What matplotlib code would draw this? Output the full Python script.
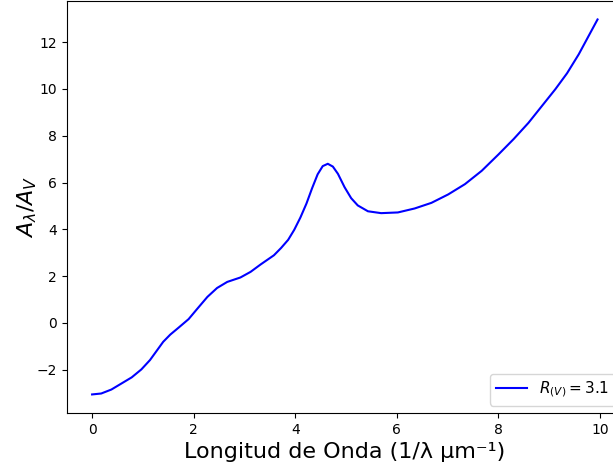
import numpy as np
import matplotlib
matplotlib.use("Agg")
import matplotlib.pyplot as plt

# curva de extincion leida punto a punto (x = 1/lambda en um^-1)
inv_lambda = [0.00, 0.18, 0.38, 0.58, 0.78, 0.97, 1.14, 1.27, 1.40, 1.54,
              1.70, 1.90, 2.07, 2.27, 2.46, 2.66, 2.92, 3.12, 3.32, 3.58,
              3.72, 3.86, 3.98, 4.10, 4.22, 4.33, 4.44, 4.54, 4.64, 4.74,
              4.84, 4.97, 5.10, 5.23, 5.43, 5.69, 6.02, 6.35, 6.68, 7.01,
              7.34, 7.67, 8.00, 8.30, 8.59, 9.12, 9.35, 9.58, 9.95]
a_lambda = [-3.06, -3.02, -2.85, -2.59, -2.33, -1.99, -1.59, -1.20, -0.81, -0.50,
            -0.21, 0.16, 0.60, 1.11, 1.49, 1.75, 1.94, 2.18, 2.50, 2.89,
            3.20, 3.55, 3.98, 4.50, 5.10, 5.75, 6.35, 6.70, 6.80, 6.68,
            6.37, 5.80, 5.33, 5.02, 4.77, 4.69, 4.72, 4.89, 5.13, 5.49,
            5.93, 6.50, 7.20, 7.86, 8.55, 9.99, 10.67, 11.48, 12.97]
rv_label = r'$R_{(V)} = 3.1$'

fig = plt.figure(figsize=(6.13, 4.69), dpi=100)
ax = fig.add_axes([0.109, 0.119, 0.907, 0.8795])

ax.plot(inv_lambda, a_lambda, color='blue', lw=1.5, label=rv_label)

ax.set_xlabel('Longitud de Onda (1/λ μm⁻¹)', fontsize=16)
ax.set_ylabel(r'$A_\lambda/A_V$', fontsize=16, labelpad=-2)
ax.legend(loc='lower right', fontsize=11)

fig.savefig('out.png', dpi=100)
